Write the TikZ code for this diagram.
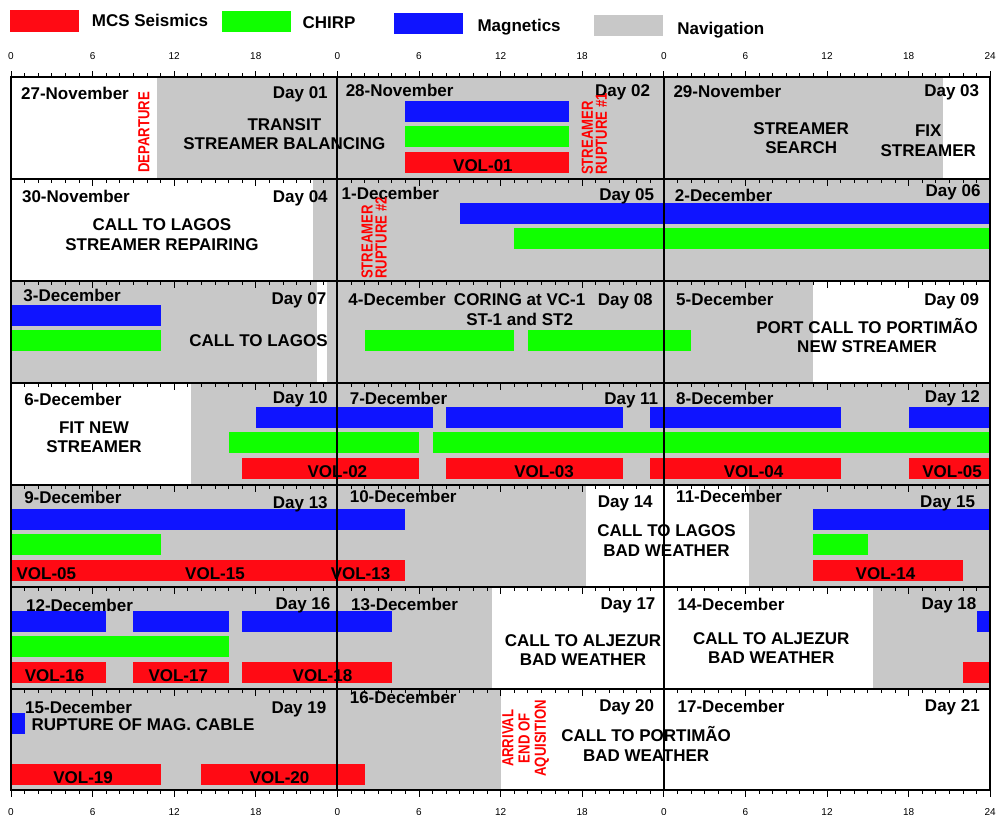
\documentclass[tikz,border=0pt]{standalone}
\usepackage{fontspec}
\setmainfont{Liberation Sans}
\newfontfamily\narrowfont[FakeStretch=0.82]{Liberation Sans}
\definecolor{mcsred}{RGB}{255,10,20}
\definecolor{chirpgreen}{RGB}{16,255,0}
\definecolor{magblue}{RGB}{15,20,255}
\definecolor{navgrey}{RGB}{200,200,200}

\begin{document}
\begin{tikzpicture}[x=13.6pt, y=-1pt,
  txt/.style={inner sep=0pt, font=\bfseries\fontsize{17}{19.3}\selectfont},
  date/.style={txt, anchor=base west},
  day/.style={txt, anchor=base east},
  note/.style={txt, anchor=base, align=center},
  vol/.style={txt, anchor=base},
  event/.style={inner sep=0pt, text=red, rotate=90, font=\narrowfont\bfseries\fontsize{16}{14}\selectfont},
  axlbl/.style={inner sep=0pt, anchor=base, font=\fontsize{10}{12}\selectfont},
  rowline/.style={line width=2pt},
  tickline/.style={line width=0.9pt}]
\useasboundingbox (-0.8088,0) rectangle (72.4265,814);
\clip (-0.8088,0) rectangle (72.4265,814);

% legend
\fill[mcsred]     (-0.07,10)   rectangle (5.0,31.7);
\fill[chirpgreen] (15.49,11)   rectangle (20.59,32.3);
\fill[magblue]    (28.18,12.7) rectangle (33.26,34.3);
\fill[navgrey]    (42.87,15)   rectangle (47.92,35.7);
\node[date] (lmcs) at (5.93,26.7)  {MCS Seismics};
\node[date] (lchi) at (21.42,28.3) {CHIRP};
\node[date] (lmag) at (34.29,31.7) {Magnetics};
\node[date] (lnav) at (48.99,34)   {Navigation};

% navigation
\foreach \a/\b/\t in {10.7/68.5/77, 22.2/72/179, 0/22.5/281, 23.2/59/281, 13.2/72/383,
                      0/42.3/485, 54.3/72/485, 0/35.4/587, 63.4/72/587, 0/36/689}
  \fill[navgrey] (\a,\t) rectangle (\b,\t+102);

% magnetics, chirp, mcs
\foreach \a/\b/\t in {29/41/77, 33/72/179, 0/11/281, 18/31/383, 32/45/383, 47/61/383,
                      66/72/383, 0/29/485, 59/72/485, 0/7/587, 9/16/587, 17/28/587,
                      71/72/587, 0/1/689}
  \fill[magblue] (\a,\t+23.5) rectangle (\b,\t+44.5);
\foreach \a/\b/\t in {29/41/77, 37/72/179, 0/11/281, 26/37/281, 38/50/281, 16/30/383,
                      31/72/383, 0/11/485, 59/63/485, 0/16/587}
  \fill[chirpgreen] (\a,\t+49) rectangle (\b,\t+70);
\foreach \a/\b/\t in {29/41/77, 17/30/383, 32/45/383, 47/61/383, 66/72/383, 0/29/485,
                      59/70/485, 0/7/587, 9/16/587, 17/28/587, 70/72/587, 0/11/689,
                      14/26/689}
  \fill[mcsred] (\a,\t+75) rectangle (\b,\t+96);
\foreach \h/\y/\v [count=\i] in {34.7/171.5/01, 24/477.5/02, 39.2/477.5/03, 54.6/477.5/04,
                      69.2/477.5/05, 2.6/579.5/05, 15/579.5/15, 25.7/579.5/13,
                      64.3/579.5/14, 3.2/681.5/16, 12.3/681.5/17, 22.9/681.5/18,
                      5.3/783.5/19, 19.75/783.5/20}
  \node[vol] (vol\i) at (\h,\y) {VOL-\v};

% frame and ticks
\draw[rowline] (0,77) rectangle (72,790);
\foreach \y in {179,281,383,485,587,689}
  \draw[rowline] (0,\y) -- (72,\y);
\draw[rowline] (24,77) -- (24,790) (48,77) -- (48,790);
\foreach \h in {0,...,72} {
  \pgfmathsetmacro\len{ifthenelse(mod(\h,6)==0,6.5,4)}
  \draw[tickline] (\h,77) -- (\h,77-\len);
  \foreach \y in {179,281,383,485,587,689,790}
    \draw[tickline] (\h,\y) -- (\h,\y+\len);
}
\foreach \h/\t in {0/0,6/6,12/12,18/18,24/0,30/6,36/12,42/18,48/0,54/6,60/12,66/18,72/24} {
  \node[axlbl] (top\h) at (\h,59.3) {\t};
  \node[axlbl] (bot\h) at (\h,815.5) {\t};
}

% dates and day numbers
\foreach \h/\y/\t [count=\i] in {0.73/99.5/27-November, 24.6/96.7/28-November, 48.7/97.3/29-November,
    0.8/202.3/30-November, 24.3/199.3/1-December, 48.8/201.7/2-December,
    0.9/301/3-December, 24.8/305/4-December, 48.9/305.7/5-December,
    0.96/405/6-December, 24.9/404/7-December, 48.9/404/8-December,
    0.96/503.3/9-December, 24.9/502.7/10-December, 48.9/502.7/11-December,
    1.1/611/12-December, 25/610/13-December, 49/610.7/14-December,
    1.03/713.3/15-December, 24.9/703.3/16-December, 49/712.7/17-December}
  \node[date] (date\i) at (\h,\y) {\t};
\foreach \h/\y/\t in {23.3/98.5/01, 47/96.7/02, 71.2/96.7/03, 23.3/202.3/04, 47.3/200.7/05,
    71.3/196.7/06, 23.2/304.3/07, 47.2/305/08, 71.2/305/09, 23.3/403.3/10, 47.6/404/11,
    71.25/402.7/12, 23.3/508.3/13, 47.2/507.7/14, 70.9/507.3/15, 23.5/609.3/16,
    47.4/609.3/17, 71/609.3/18, 23.2/713.3/19, 47.3/711.7/20, 71.25/711.7/21}
  \node[day] (day\t) at (\h,\y) {Day \t};

% notes (y = baseline of the last line)
\foreach \h/\y/\t [count=\i] in {20.1/149.3/TRANSIT\\STREAMER BALANCING,
    58.1/153.3/STREAMER\\SEARCH, 67.45/156/FIX\\STREAMER,
    11.1/250/CALL TO LAGOS\\STREAMER REPAIRING, 18.2/346.7/CALL TO LAGOS,
    37.4/325/CORING at VC-1\\ST-1 and ST2,
    62.95/352.7/PORT CALL TO PORTIMÃO\\NEW STREAMER, 6.1/452.7/FIT NEW\\STREAMER,
    48.2/556/CALL TO LAGOS\\BAD WEATHER, 42.06/665.3/CALL TO ALJEZUR\\BAD WEATHER,
    55.9/663.3/CALL TO ALJEZUR\\BAD WEATHER, 46.7/761/CALL TO PORTIMÃO\\BAD WEATHER}
  \node[note] (note\i) at (\h,\y) {\t};
\node[date] (magcable) at (1.5,730.7) {RUPTURE OF MAG. CABLE};

% events
\node[event, anchor=west] (departure) at (9.78,172.7) {DEPARTURE};
\node[event, anchor=west, align=left] (rupture1) at (42.9,175) {STREAMER\\RUPTURE \#1};
\node[event, anchor=west, align=left] (rupture2) at (26.7,279) {STREAMER\\RUPTURE \#2};
\node[event, align=center, font=\narrowfont\bfseries\fontsize{16}{16.2}\selectfont] (arrival)
  at (37.85,738.3) {ARRIVAL\\END OF\\AQUISITION};
\end{tikzpicture}
\end{document}
